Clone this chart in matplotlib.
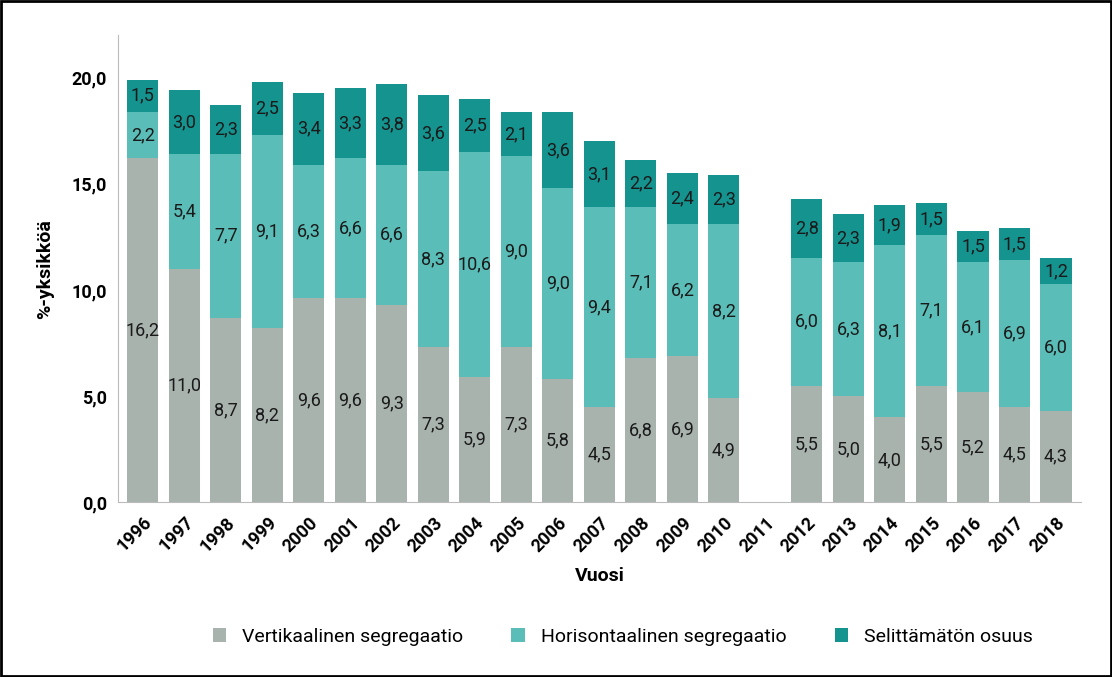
import numpy as np
import matplotlib.pyplot as plt

plt.rcParams['font.family'] = ['Roboto', 'DejaVu Sans']

# Step 1: Data (2011 has no values)
years = [str(y) for y in range(1996, 2019)]
vert = [16.2, 11.0, 8.7, 8.2, 9.6, 9.6, 9.3, 7.3, 5.9, 7.3, 5.8, 4.5, 6.8, 6.9, 4.9, np.nan,
        5.5, 5.0, 4.0, 5.5, 5.2, 4.5, 4.3]
hor = [2.2, 5.4, 7.7, 9.1, 6.3, 6.6, 6.6, 8.3, 10.6, 9.0, 9.0, 9.4, 7.1, 6.2, 8.2, np.nan,
       6.0, 6.3, 8.1, 7.1, 6.1, 6.9, 6.0]
unexp = [1.5, 3.0, 2.3, 2.5, 3.4, 3.3, 3.8, 3.6, 2.5, 2.1, 3.6, 3.1, 2.2, 2.4, 2.3, np.nan,
         2.8, 2.3, 1.9, 1.5, 1.5, 1.5, 1.2]
vert, hor, unexp = np.array(vert), np.array(hor), np.array(unexp)
x = np.arange(len(years))

# Step 2: Stacked bars
fig = plt.figure(figsize=(11.12, 6.77), dpi=100)
ax = fig.add_axes([0.106, 0.258, 0.866, 0.69])
b1 = ax.bar(x, vert, width=0.75, color='#a8b3ae', label='Vertikaalinen segregaatio')
b2 = ax.bar(x, hor, width=0.75, bottom=vert, color='#5bbdb7', label='Horisontaalinen segregaatio')
b3 = ax.bar(x, unexp, width=0.75, bottom=vert + hor, color='#14938f', label='Selittämätön osuus')

# Step 3: Value labels
for bars, vals in [(b1, vert), (b2, hor), (b3, unexp)]:
    labels = ['' if np.isnan(v) else f'{v:.1f}'.replace('.', ',') for v in vals]
    ax.bar_label(bars, labels=labels, label_type='center', fontsize=13, color='#1a1a1a')

# Step 4: Axes
ax.set_ylim(0, 22)
ax.set_xlim(-0.6, len(years) - 0.4)
ax.set_yticks([0, 5, 10, 15, 20])
ax.set_yticklabels(['0,0', '5,0', '10,0', '15,0', '20,0'], fontsize=13, fontweight='bold')
ax.set_xticks(x)
ax.set_xticklabels(years, rotation=45, ha='right', rotation_mode='anchor', fontsize=13, fontweight='bold')
ax.tick_params(length=0, pad=8)
ax.spines['top'].set_visible(False)
ax.spines['right'].set_visible(False)
ax.spines['left'].set_color('#bbbbbb')
ax.spines['bottom'].set_color('#bbbbbb')
ax.set_xlabel('Vuosi', fontsize=14, fontweight='bold', labelpad=8)
ax.set_ylabel('%-yksikköä', fontsize=14, fontweight='bold', labelpad=12)

fig.legend(handles=[b1, b2, b3], loc='lower center', bbox_to_anchor=(0.56, 0.02), ncol=3,
           frameon=False, fontsize=14, handlelength=0.7, handleheight=0.7, columnspacing=2.5)
fig.patches.append(plt.Rectangle((0.001, 0.001), 0.998, 0.998, transform=fig.transFigure,
                                 fill=False, edgecolor='black', linewidth=2))
plt.savefig('out.png')
